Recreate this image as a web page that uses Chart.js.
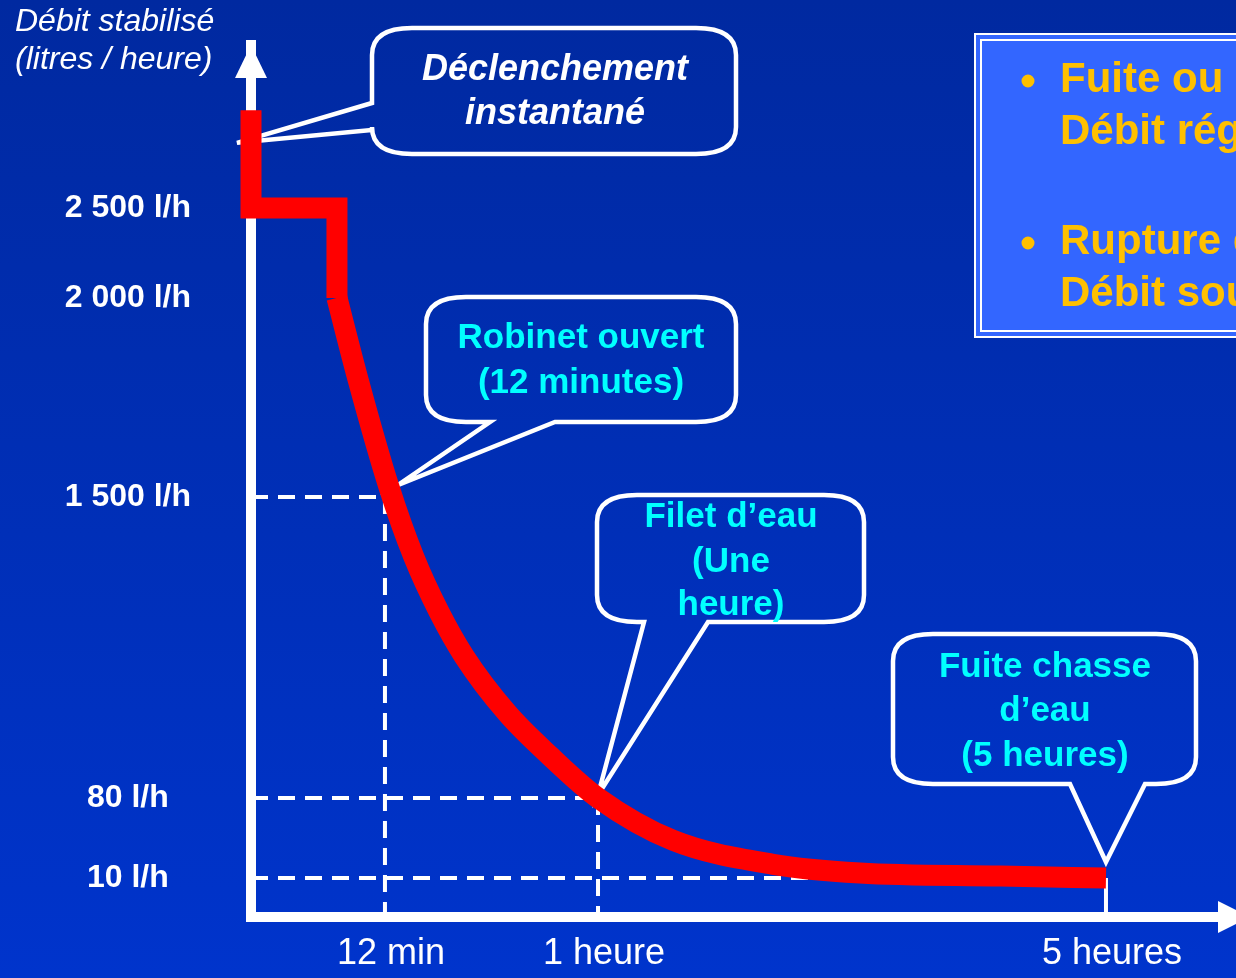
<!DOCTYPE html>
<html>
<head>
<meta charset="utf-8">
<script src="https://cdn.jsdelivr.net/npm/chart.js@4/dist/chart.umd.min.js"></script>
<style>
    html, body { margin: 0; padding: 0; }
    body {
        width: 1236px;
        height: 978px;
        overflow: hidden;
        background: linear-gradient(#0029a0, #0034cc);
    }
    #wrap { position: relative; width: 1236px; height: 978px; }
</style>
</head>
<body>
<div id="wrap"><canvas id="debitChart"></canvas></div>
<script>
// time in minutes, flow in litres / hour
const stepTimes = [0, 0, 7.7, 7.7];
const stepFlow = [2800, 2500, 2500, 2000];
const curveTimes = [7.7, 9.6, 12.9, 18.5, 24.2, 29.8, 39.5, 49.2, 60, 95.4, 142.7, 183.8, 250, 300];
const curveFlow = [2000, 1794, 1525, 1217, 957, 750, 481, 278, 80, 43, 22, 14.4, 11.7, 10];

// thresholds marked with dashed guides
const markTimes = [12, 60, 300];
const markFlow = [1500, 80, 10];

const flowTicks = [10, 80, 1500, 2000, 2500];
const flowLabels = ['10 l/h', '80 l/h', '1 500 l/h', '2 000 l/h', '2 500 l/h'];
const timeTicks = [12, 60, 300];
const timeLabels = ['12 min', '1 heure', '5 heures'];

// the drawing is schematic: axes are stretched piecewise between these values
const timeKnots = [0, 12, 60, 300, 360];
const timeKnotFracs = [0, 0.136, 0.3523, 0.868, 1];
const flowKnots = [0, 10, 80, 1500, 2000, 2500, 3000];
const flowKnotFracs = [0, 0.0447, 0.1365, 0.4817, 0.7099, 0.8131, 1];

const FONT = "'Liberation Sans', Arial, sans-serif";
Chart.defaults.font.family = FONT;

class PiecewiseScale extends Chart.LinearScale {
    toFraction(value) {
        const vals = this.options.knotValues;
        const fr = this.options.knotFracs;
        if (value <= vals[0]) return fr[0];
        for (let i = 1; i < vals.length; i++) {
            if (value <= vals[i]) {
                return fr[i - 1] + (value - vals[i - 1]) / (vals[i] - vals[i - 1]) * (fr[i] - fr[i - 1]);
            }
        }
        return fr[fr.length - 1];
    }
    getPixelForValue(value) {
        if (value === null || value === undefined) return NaN;
        return this.getPixelForDecimal(this.toFraction(value));
    }
}
PiecewiseScale.id = 'piecewise';
PiecewiseScale.defaults = Chart.LinearScale.defaults;
Chart.register(PiecewiseScale);

function toPoints(xs, ys) {
    return xs.map((x, i) => ({ x: x, y: ys[i] }));
}

// dashed guides from the axes to each marked point
const guideSets = [];
markTimes.forEach((t, i) => {
    guideSets.push({
        data: [{ x: 0, y: markFlow[i] }, { x: t, y: markFlow[i] }],
        borderColor: '#ffffff', borderWidth: 4, borderDash: [17, 10],
        pointRadius: 0, order: 5
    });
    const last = i === markTimes.length - 1;
    guideSets.push({
        data: [{ x: t, y: markFlow[i] }, { x: t, y: 0 }],
        borderColor: '#ffffff', borderWidth: 4, borderDash: last ? [] : [17, 10],
        pointRadius: 0, order: 5
    });
});

// speech bubbles, tips anchored on data points
const callouts = [
    { box: [372, 28, 736, 154], side: 'left', base: [103, 130], tip: [0, 2700], nudge: [-14, 0],
      lines: ['Déclenchement', 'instantané'], rows: [70, 114], cx: 555,
      font: 'italic bold 36px ' + FONT, color: '#ffffff' },
    { box: [426, 297, 736, 422], side: 'bottom', base: [490, 555], tip: [12.9, 1525], nudge: [9, -2],
      lines: ['Robinet ouvert', '(12 minutes)'], rows: [338, 383], cx: 581,
      font: 'bold 35px ' + FONT, color: '#00ffff' },
    { box: [597, 495, 864, 622], side: 'bottom', base: [644, 708], tip: [60, 80], nudge: [0, -3],
      lines: ['Filet d’eau', '(Une', 'heure)'], rows: [517, 562, 605], cx: 731,
      font: 'bold 35px ' + FONT, color: '#00ffff' },
    { box: [893, 634, 1196, 784], side: 'bottom', base: [1070, 1145], tip: [300, 10], nudge: [0, -16],
      lines: ['Fuite chasse', 'd’eau', '(5 heures)'], rows: [667, 711, 756], cx: 1045,
      font: 'bold 35px ' + FONT, color: '#00ffff' }
];

function bubblePath(ctx, c, tx, ty) {
    const [x1, y1, x2, y2] = c.box;
    const rx = 40, ry = 27;
    ctx.beginPath();
    ctx.moveTo(x1 + rx, y1);
    ctx.lineTo(x2 - rx, y1);
    ctx.quadraticCurveTo(x2, y1, x2, y1 + ry);
    ctx.lineTo(x2, y2 - ry);
    ctx.quadraticCurveTo(x2, y2, x2 - rx, y2);
    if (c.side === 'bottom') {
        ctx.lineTo(c.base[1], y2);
        ctx.lineTo(tx, ty);
        ctx.lineTo(c.base[0], y2);
    }
    ctx.lineTo(x1 + rx, y2);
    ctx.quadraticCurveTo(x1, y2, x1, y2 - ry);
    if (c.side === 'left') {
        ctx.lineTo(x1, c.base[1]);
        ctx.lineTo(tx, ty);
        ctx.lineTo(x1, c.base[0]);
    }
    ctx.lineTo(x1, y1 + ry);
    ctx.quadraticCurveTo(x1, y1, x1 + rx, y1);
    ctx.closePath();
}

const decorations = {
    id: 'decorations',
    beforeDatasetsDraw(chart) {
        const ctx = chart.ctx;
        const xs = chart.scales.x, ys = chart.scales.y;
        ctx.save();
        callouts.forEach(c => {
            const tx = xs.getPixelForValue(c.tip[0]) + c.nudge[0];
            const ty = ys.getPixelForValue(c.tip[1]) + c.nudge[1];
            bubblePath(ctx, c, tx, ty);
            ctx.lineWidth = 4.5;
            ctx.strokeStyle = '#ffffff';
            ctx.lineJoin = 'miter';
            ctx.stroke();
            ctx.fillStyle = c.color;
            ctx.font = c.font;
            ctx.textAlign = 'center';
            ctx.textBaseline = 'middle';
            c.lines.forEach((l, i) => ctx.fillText(l, c.cx, c.rows[i]));
        });
        ctx.restore();
    },
    afterDraw(chart) {
        const ctx = chart.ctx;
        const a = chart.chartArea;
        ctx.save();
        // axis arrow heads
        ctx.fillStyle = '#ffffff';
        ctx.beginPath();
        ctx.moveTo(a.left, a.top);
        ctx.lineTo(a.left - 16, a.top + 33);
        ctx.lineTo(a.left + 16, a.top + 33);
        ctx.closePath();
        ctx.fill();
        ctx.beginPath();
        ctx.moveTo(a.right + 14, a.bottom);
        ctx.lineTo(a.right - 18, a.bottom - 16);
        ctx.lineTo(a.right - 18, a.bottom + 16);
        ctx.closePath();
        ctx.fill();

        // y axis title
        ctx.font = 'italic 32px ' + FONT;
        ctx.textAlign = 'left';
        ctx.textBaseline = 'middle';
        ctx.fillText('Débit stabilisé', 15, 22);
        ctx.fillText('(litres / heure)', 15, 60);

        // side note box
        ctx.fillStyle = '#3366ff';
        ctx.fillRect(975, 34, 300, 303);
        ctx.strokeStyle = '#ffffff';
        ctx.lineWidth = 2;
        ctx.strokeRect(975, 34, 300, 303);
        ctx.strokeRect(981, 40, 300, 291);
        ctx.fillStyle = '#ffc000';
        ctx.beginPath();
        ctx.arc(1028, 81, 6.5, 0, Math.PI * 2);
        ctx.arc(1028, 243, 6.5, 0, Math.PI * 2);
        ctx.fill();
        ctx.font = 'bold 42px ' + FONT;
        ctx.fillText('Fuite ou surconsommation', 1060, 80);
        ctx.fillText('Débit régulier', 1060, 132);
        ctx.fillText('Rupture de canalisation', 1060, 242);
        ctx.fillText('Débit soudain', 1060, 294);
        ctx.restore();
    }
};

new Chart(document.getElementById('debitChart'), {
    type: 'line',
    data: {
        datasets: [{
            data: toPoints(stepTimes, stepFlow),
            borderColor: '#ff0000',
            borderWidth: 21,
            borderJoinStyle: 'miter',
            borderCapStyle: 'butt',
            tension: 0,
            pointRadius: 0,
            order: 0
        }, {
            data: toPoints(curveTimes, curveFlow),
            borderColor: '#ff0000',
            borderWidth: 21,
            borderCapStyle: 'butt',
            cubicInterpolationMode: 'monotone',
            pointRadius: 0,
            order: 0
        }].concat(guideSets)
    },
    options: {
        responsive: true,
        maintainAspectRatio: false,
        animation: false,
        events: [],
        clip: false,
        layout: { padding: { top: 45, right: 0, left: 0, bottom: 0 } },
        plugins: {
            legend: { display: false },
            tooltip: { enabled: false }
        },
        scales: {
            x: {
                type: 'piecewise',
                min: 0,
                max: 360,
                knotValues: timeKnots,
                knotFracs: timeKnotFracs,
                grid: { display: false, drawTicks: false },
                border: { display: true, color: '#ffffff', width: 10 },
                afterBuildTicks: (s) => { s.ticks = timeTicks.map(v => ({ value: v })); },
                afterFit: (s) => { s.height = 61; s.paddingLeft = 0; s.paddingRight = 0; },
                ticks: {
                    autoSkip: false,
                    maxRotation: 0,
                    padding: 15,
                    labelOffset: 6,
                    color: '#ffffff',
                    font: { size: 36 },
                    callback: (v) => timeLabels[timeTicks.indexOf(v)]
                }
            },
            y: {
                type: 'piecewise',
                min: 0,
                max: 3000,
                knotValues: flowKnots,
                knotFracs: flowKnotFracs,
                grid: { display: false, drawTicks: false },
                border: { display: true, color: '#ffffff', width: 10 },
                afterBuildTicks: (s) => { s.ticks = flowTicks.map(v => ({ value: v })); },
                afterFit: (s) => { s.width = 251; s.paddingTop = 0; s.paddingBottom = 0; },
                ticks: {
                    autoSkip: false,
                    crossAlign: 'center',
                    padding: 60,
                    color: '#ffffff',
                    font: { size: 32, weight: 'bold' },
                    callback: (v) => flowLabels[flowTicks.indexOf(v)]
                }
            }
        }
    },
    plugins: [decorations]
});
</script>
</body>
</html>
